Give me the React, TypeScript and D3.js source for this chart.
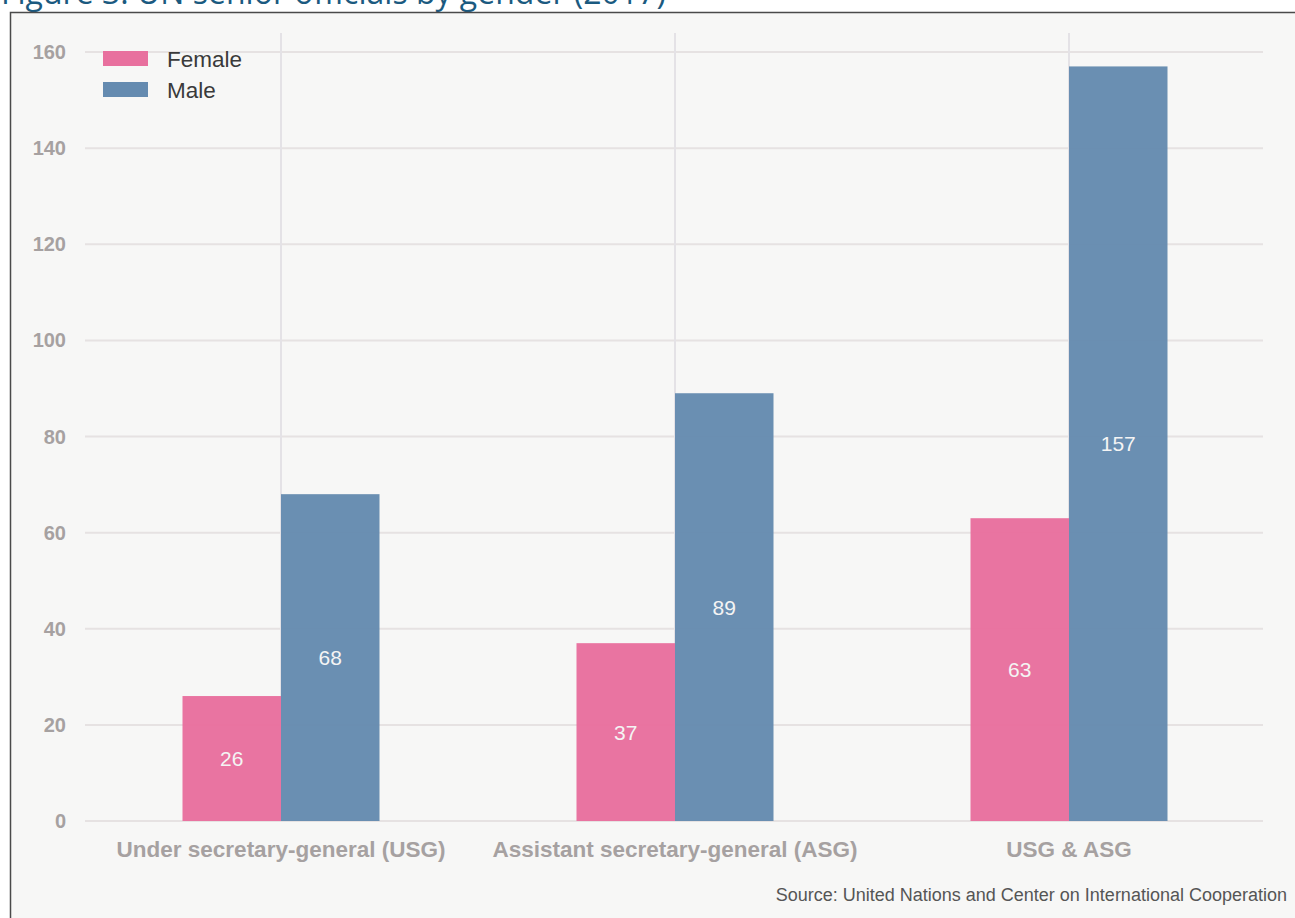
import React from "react";
import * as d3 from "d3";

const categories = ["Under secretary-general (USG)", "Assistant secretary-general (ASG)", "USG & ASG"];
const seriesNames = ["Female", "Male"];
const femaleValues = [26, 37, 63];
const maleValues = [68, 89, 157];
const yTicks = [0, 20, 40, 60, 80, 100, 120, 140, 160];
const colors = ["#e8709e", "#658bb0"];
const title = "Figure 3. UN senior officials by gender (2017)";
const source = "Source: United Nations and Center on International Cooperation";

const W = 1295;
const H = 918;

export default function App() {
  const x = d3.scaleBand<string>().domain(categories).range([84, 1266]).paddingInner(0).paddingOuter(0);
  const inner = d3.scaleBand<string>().domain(seriesNames).range([0, x.bandwidth()]).paddingInner(0).paddingOuter(1);
  const y = d3.scaleLinear().domain([0, 160]).range([821, 52]);
  const seriesValues = [femaleValues, maleValues];
  const font = "'Liberation Sans', Arial, Helvetica, sans-serif";

  return (
    <svg width={W} height={H} style={{ position: "fixed", left: 0, top: 0, background: "#ffffff" }}>
      <text x={1} y={4} fontFamily="'Open Sans', 'Noto Sans', sans-serif" fontSize={32} fill="#1b5a80">
        {title}
      </text>
      <rect x={10.5} y={12.5} width={W + 10} height={H + 10} fill="#f7f7f6" stroke="#4a4a4a" strokeWidth={1.5} />
      {yTicks.map((t) => (
        <line key={"h" + t} x1={85} x2={1263} y1={y(t)} y2={y(t)} stroke="#e6e2e2" strokeWidth={2} />
      ))}
      {categories.map((c) => (
        <line key={"v" + c} x1={x(c)! + x.bandwidth() / 2} x2={x(c)! + x.bandwidth() / 2} y1={33} y2={821} stroke="#e4e2e6" strokeWidth={2} />
      ))}
      {categories.map((c, i) =>
        seriesNames.map((s, j) => {
          const v = seriesValues[j][i];
          const bx = x(c)! + inner(s)!;
          return (
            <g key={c + s}>
              <rect x={bx} y={y(v)} width={inner.bandwidth()} height={y(0) - y(v)} fill={colors[j]} fillOpacity={0.97} />
              <text
                x={bx + inner.bandwidth() / 2}
                y={y(v / 2)}
                textAnchor="middle"
                dominantBaseline="central"
                fontFamily={font}
                fontSize={21}
                fill="#f4f4f4"
              >
                {v}
              </text>
            </g>
          );
        })
      )}
      {yTicks.map((t) => (
        <text key={"yt" + t} x={66} y={y(t)} textAnchor="end" dominantBaseline="central" fontFamily={font} fontWeight="bold" fontSize={20} fill="#a6a1a1">
          {t}
        </text>
      ))}
      {categories.map((c) => (
        <text key={"xl" + c} x={x(c)! + x.bandwidth() / 2} y={857} textAnchor="middle" fontFamily={font} fontWeight="bold" fontSize={22.5} fill="#a6a1a1">
          {c}
        </text>
      ))}
      {seriesNames.map((s, j) => (
        <g key={"lg" + s}>
          <rect x={103} y={51 + j * 31} width={45} height={15} fill={colors[j]} />
          <text x={167} y={59 + j * 31} dominantBaseline="central" fontFamily={font} fontSize={22.5} fill="#3a3a3a">
            {s}
          </text>
        </g>
      ))}
      <text x={1287} y={901} textAnchor="end" fontFamily={font} fontSize={18} fill="#555555">
        {source}
      </text>
    </svg>
  );
}
